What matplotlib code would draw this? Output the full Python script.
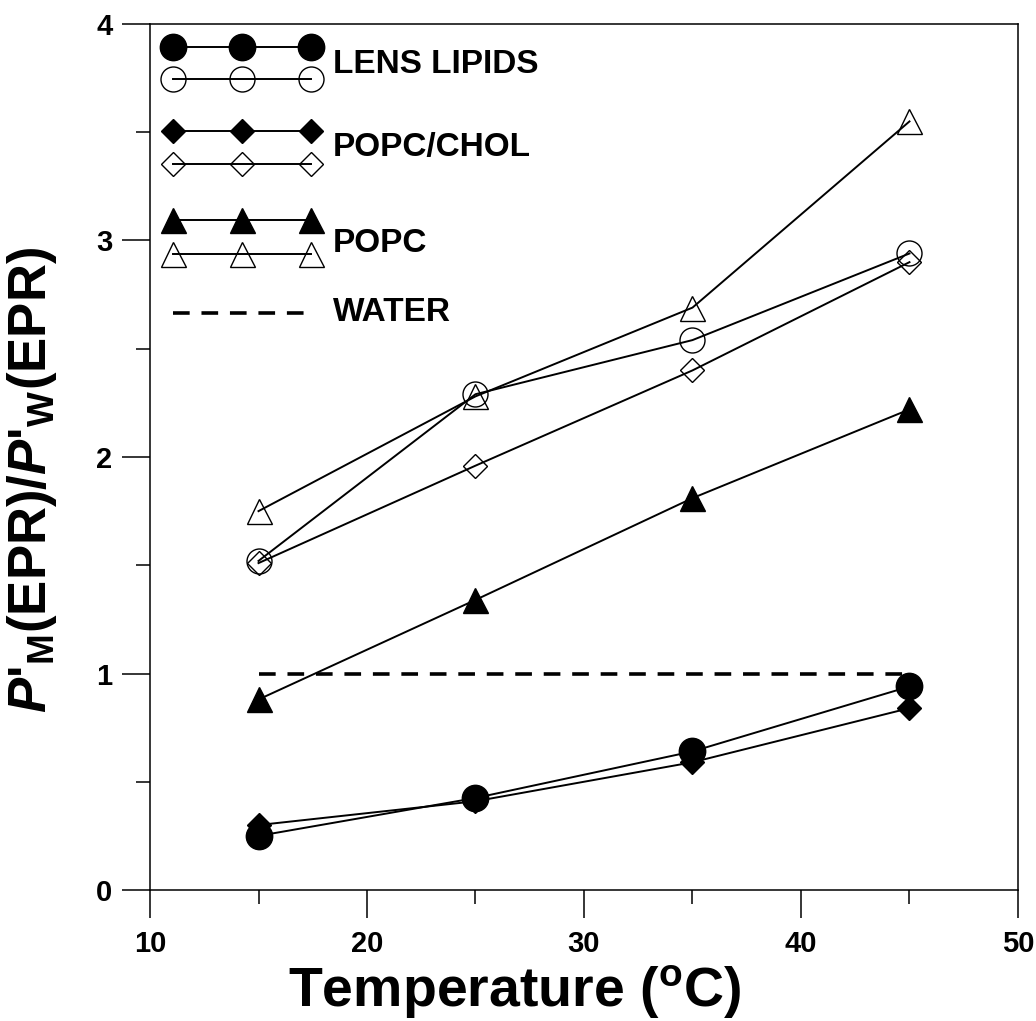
import matplotlib
matplotlib.use('Agg')
import matplotlib.pyplot as plt
from matplotlib.ticker import MultipleLocator

plt.rcParams['font.family'] = ['Liberation Sans', 'DejaVu Sans']
plt.rcParams['mathtext.fontset'] = 'custom'
plt.rcParams['mathtext.rm'] = 'Liberation Sans:bold'
plt.rcParams['mathtext.it'] = 'Liberation Sans:bold:italic'
plt.rcParams['mathtext.bf'] = 'Liberation Sans:bold'
plt.rcParams['mathtext.default'] = 'rm'
plt.rcParams['lines.scale_dashes'] = False

# data
temperature = [15, 25, 35, 45]
lens_filled = [0.25, 0.425, 0.64, 0.94]
lens_open = [1.52, 2.29, 2.54, 2.94]
chol_filled = [0.30, 0.41, 0.59, 0.84]
chol_open = [1.51, 1.96, 2.40, 2.90]
popc_filled = [0.88, 1.34, 1.81, 2.22]
popc_open = [1.75, 2.28, 2.69, 3.55]
water_x = [15, 45]
water_y = [1.0, 1.0]

series = [
    (lens_filled, 'o', 'k', 19),
    (chol_filled, 'D', 'k', 12),
    (popc_filled, '^', 'k', 18),
    (lens_open, 'o', 'none', 18),
    (chol_open, 'D', 'none', 12),
    (popc_open, '^', 'none', 18),
]

fig = plt.figure(figsize=(10.36, 10.21), dpi=100)
ax = fig.add_axes([0.1448, 0.1283, 0.8378, 0.8482])

for vals, mk, fc, ms in series:
    ax.plot(temperature, vals, color='k', lw=1.4, marker=mk, ms=ms,
            mfc=fc, mec='k', mew=1.0)

ax.plot(water_x, water_y, color='k', lw=2.6, dashes=(12, 8.5))

# legend drawn by hand
leg_x = [0.0265, 0.106, 0.1855]
legend_rows = [
    ('o', 'k', 19, 0.9734), ('o', 'none', 18, 0.9365),
    ('D', 'k', 12, 0.8764), ('D', 'none', 12, 0.8383),
    ('^', 'k', 18, 0.7737), ('^', 'none', 18, 0.7344),
]
for mk, fc, ms, yy in legend_rows:
    ax.plot(leg_x, [yy] * 3, transform=ax.transAxes, color='k', lw=1.4,
            marker=mk, ms=ms, mfc=fc, mec='k', mew=1.0, clip_on=False)
ax.plot([0.0265, 0.178], [0.6663, 0.6663], transform=ax.transAxes,
        color='k', lw=2.6, dashes=(12, 8.5))

legend_labels = [('LENS LIPIDS', 0.9538), ('POPC/CHOL', 0.857),
                 ('POPC', 0.747), ('WATER', 0.667)]
for txt, yy in legend_labels:
    ax.text(0.211, yy, txt, transform=ax.transAxes, fontsize=24,
            fontweight='bold', va='center', ha='left')

ax.set_xlim(10, 50)
ax.set_ylim(0, 4)
ax.xaxis.set_major_locator(MultipleLocator(10))
ax.xaxis.set_minor_locator(MultipleLocator(5))
ax.yaxis.set_major_locator(MultipleLocator(1))
ax.yaxis.set_minor_locator(MultipleLocator(0.5))
ax.tick_params(which='major', direction='out', length=20, width=1.1,
               labelsize=21, pad=9)
ax.tick_params(which='minor', direction='out', length=10, width=1.1)
ax.tick_params(axis='y', pad=7)
for lab in ax.get_xticklabels() + ax.get_yticklabels():
    lab.set_fontweight('bold')
for sp in ax.spines.values():
    sp.set_linewidth(1.1)

ax.set_xlabel(r'Temperature ($^{\mathrm{o}}$C)', fontsize=40,
              fontweight='bold')
ax.xaxis.set_label_coords(0.42, -0.085)
ax.set_ylabel(r"$\mathit{P}$'$_{\mathrm{M}}$(EPR)/$\mathit{P}$'$_{\mathrm{W}}$(EPR)",
              fontsize=38, fontweight='bold')
ax.yaxis.set_label_coords(-0.105, 0.473)

fig.savefig('out.png', dpi=100)
